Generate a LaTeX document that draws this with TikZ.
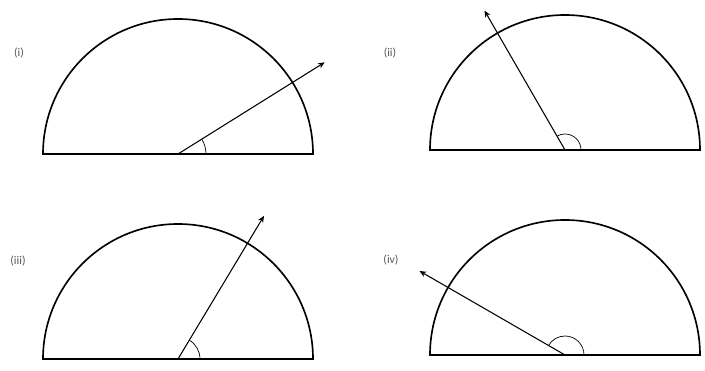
\documentclass[tikz,border=0pt]{standalone}
\usepackage{fontspec}
\setmainfont{Carlito}
\usepackage{tikz}
\usetikzlibrary{arrows.meta,calc}
\definecolor{labelgray}{HTML}{555555}
\tikzset{
  halfdisc/.style={
    line width=1.4pt,
    draw=black,
    line join=miter
  },
  ray/.style={
    -{Stealth[length=2mm,width=1.7mm]},
    line width=0.9pt,
    draw=black
  },
  anglemark/.style={
    line width=0.6pt,
    draw=black
  },
  partlabel/.style={
    text=labelgray,
    font=\normalsize,
    inner sep=0pt
  }
}

\begin{document}
\begin{tikzpicture}[x=0.03cm,y=0.03cm]
\useasboundingbox (0,0) rectangle (705,371);
% panel centres
\coordinate (cA) at (178,217);
\coordinate (cB) at (565,221);
\coordinate (cC) at (178,12);
\coordinate (cD) at (565,16);
% arrow tips
\coordinate (tipA) at ($(cA)+(32:173)$);
\coordinate (tipB) at ($(cB)+(120:161)$);
\coordinate (tipC) at ($(cC)+(59:167)$);
\coordinate (tipD) at ($(cD)+(150:168)$);
% labels
\node[partlabel] (labA) at (19,318) {(i)};
\node[partlabel] (labB) at (390,318) {(ii)};
\node[partlabel] (labC) at (18,110) {(iii)};
\node[partlabel] (labD) at (391,111) {(iv)};
% half discs
\draw[halfdisc] ($(cA)+(-135,0)$) -- ++(270,0) arc[start angle=0,end angle=180,radius=135] -- cycle;
\draw[halfdisc] ($(cB)+(-135,0)$) -- ++(270,0) arc[start angle=0,end angle=180,radius=135] -- cycle;
\draw[halfdisc] ($(cC)+(-135,0)$) -- ++(270,0) arc[start angle=0,end angle=180,radius=135] -- cycle;
\draw[halfdisc] ($(cD)+(-135,0)$) -- ++(270,0) arc[start angle=0,end angle=180,radius=135] -- cycle;
% rays
\draw[ray] (cA) -- (tipA);
\draw[ray] (cB) -- (tipB);
\draw[ray] (cC) -- (tipC);
\draw[ray] (cD) -- (tipD);
% angle marks
\draw[anglemark] ($(cA)+(28,0)$) arc[start angle=0,end angle=32,radius=28];
\draw[anglemark] ($(cB)+(16,0)$) arc[start angle=0,end angle=120,radius=16];
\draw[anglemark] ($(cC)+(22,0)$) arc[start angle=0,end angle=59,radius=22];
\draw[anglemark] ($(cD)+(19,0)$) arc[start angle=0,end angle=150,radius=19];
\end{tikzpicture}
\end{document}
